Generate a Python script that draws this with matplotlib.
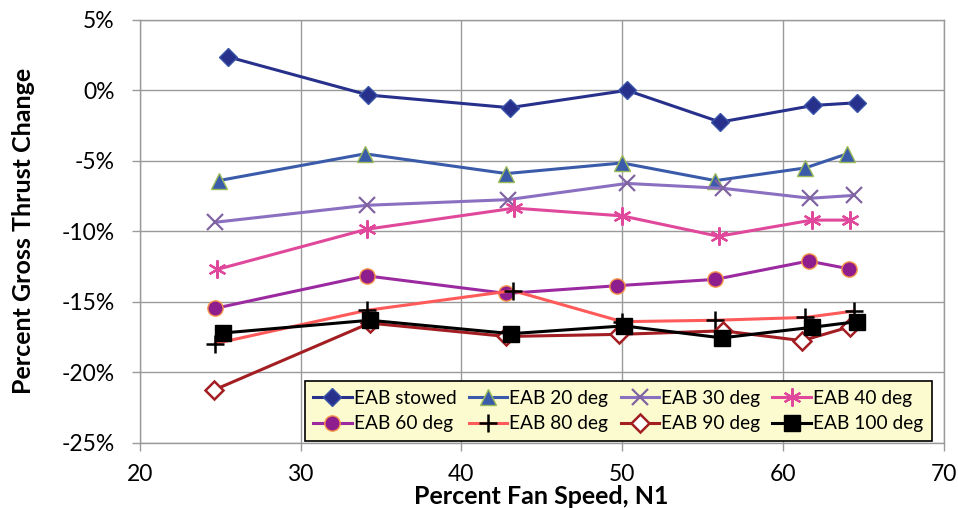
import matplotlib
matplotlib.use("Agg")
import matplotlib.pyplot as plt
from matplotlib.ticker import FuncFormatter

plt.rcParams['font.family'] = ['Lato', 'DejaVu Sans']

# fan speed (N1 %) and gross thrust change (%) for each EAB setting
x_stowed = [25.5, 34.2, 43.0, 50.3, 56.1, 61.9, 64.6]
y_stowed = [2.37, -0.33, -1.23, 0.0, -2.25, -1.07, -0.88]

x_20 = [24.9, 34.0, 42.8, 50.0, 55.8, 61.4, 64.0]
y_20 = [-6.4, -4.5, -5.9, -5.15, -6.4, -5.5, -4.5]

x_30 = [24.7, 34.1, 42.9, 50.3, 56.3, 61.7, 64.4]
y_30 = [-9.35, -8.15, -7.75, -6.6, -6.95, -7.65, -7.45]

x_40 = [24.8, 34.1, 43.3, 50.0, 56.0, 61.8, 64.2]
y_40 = [-12.7, -9.85, -8.35, -8.9, -10.35, -9.2, -9.2]

x_60 = [24.7, 34.1, 42.8, 49.7, 55.8, 61.6, 64.1]
y_60 = [-15.45, -13.15, -14.4, -13.85, -13.4, -12.1, -12.65]

x_80 = [24.7, 34.1, 43.2, 50.0, 55.8, 61.4, 64.4]
y_80 = [-17.95, -15.6, -14.2, -16.4, -16.3, -16.1, -15.65]

x_90 = [24.6, 34.3, 42.8, 49.8, 56.3, 61.2, 64.2]
y_90 = [-21.25, -16.5, -17.45, -17.3, -17.05, -17.75, -16.75]

x_100 = [25.2, 34.3, 43.1, 50.1, 56.2, 61.8, 64.6]
y_100 = [-17.2, -16.3, -17.25, -16.7, -17.55, -16.8, -16.4]

fig = plt.figure(figsize=(9.58, 5.08), dpi=100)
ax = fig.add_axes([0.146, 0.128, 0.839, 0.833])

lw = 2.2
ax.plot(x_stowed, y_stowed, color='#27318C', lw=lw, marker='D', ms=9,
        mfc='#27318C', mec='#3A55A8', label='EAB stowed')
ax.plot(x_20, y_20, color='#3A5BAA', lw=lw, marker='^', ms=12,
        mfc='#3A5BAA', mec='#9BBB59', label='EAB 20 deg')
ax.plot(x_30, y_30, color='#8B6FC0', lw=lw, marker='x', ms=12, mew=1.6,
        mec='#8064A2', label='EAB 30 deg')
ax.plot(x_40, y_40, color='#E0489B', lw=lw, marker=(6, 2, 0), ms=13, mew=1.6,
        mec='#E0489B', label='EAB 40 deg')
ax.plot(x_60, y_60, color='#9B2AA0', lw=lw, marker='o', ms=11,
        mfc='#8E1D8E', mec='#F79646', mew=1.0, label='EAB 60 deg')
ax.plot(x_80, y_80, color='#FF5A5A', lw=lw, marker='+', ms=13, mew=1.8,
        mec='black', label='EAB 80 deg')
ax.plot(x_90, y_90, color='#A31E22', lw=lw, marker='D', ms=9, mew=1.8,
        mfc='white', mec='#A31E22', label='EAB 90 deg')
ax.plot(x_100, y_100, color='black', lw=lw, marker='s', ms=11,
        mfc='black', mec='black', label='EAB 100 deg')

ax.set_xlim(20, 70)
ax.set_ylim(-25, 5)
ax.set_xticks(range(20, 71, 10))
ax.set_yticks(range(-25, 6, 5))
ax.yaxis.set_major_formatter(FuncFormatter(lambda v, p: '%d%%' % v))
ax.grid(True, color='#9A9A9A', lw=1.0)
ax.set_axisbelow(True)
for s in ax.spines.values():
    s.set_color('#9A9A9A')
    s.set_linewidth(1.0)
ax.tick_params(length=6, width=1.0, color='#9A9A9A', labelsize=16.5,
               labelcolor='black')
ax.tick_params(axis='x', pad=9)
ax.tick_params(axis='y', pad=12)

ax.set_xlabel('Percent Fan Speed, N1', fontsize=18, fontweight='bold',
              labelpad=0)
ax.set_ylabel('Percent Gross Thrust Change', fontsize=18, fontweight='bold',
              labelpad=19)

# legend filled row by row like the original (matplotlib fills by column)
h, l = ax.get_legend_handles_labels()
order = [0, 4, 1, 5, 2, 6, 3, 7]
leg = ax.legend([h[i] for i in order], [l[i] for i in order], ncol=4,
                loc='lower left', bbox_to_anchor=(0.205, 0.005, 0.78, 0.151),
                mode='expand', fontsize=13.8, frameon=True, fancybox=False,
                handlelength=2.0, handletextpad=0.1, borderaxespad=0,
                borderpad=0.45, columnspacing=0.4, labelspacing=0.45)
leg.get_frame().set_facecolor('#FBFBCF')
leg.get_frame().set_edgecolor('black')
leg.get_frame().set_linewidth(1.2)
leg.get_frame().set_alpha(1)

fig.savefig('out.png', dpi=100)
